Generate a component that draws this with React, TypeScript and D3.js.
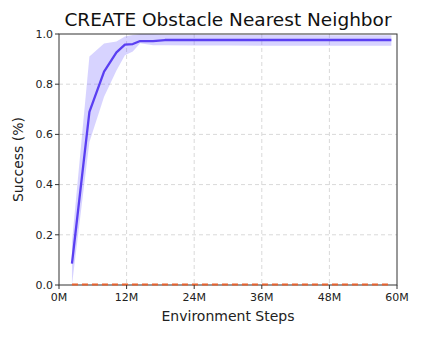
import React, { useEffect, useRef } from "react";
import * as d3 from "d3";

// environment steps (millions)
const steps = [2.3, 5.4, 8.0, 10.2, 11.7, 13.1, 14.4, 16.7, 18.8, 24, 30, 36, 42, 48, 54, 59];
const meanSuccess = [0.085, 0.69, 0.85, 0.927, 0.958, 0.96, 0.972, 0.972, 0.976, 0.976, 0.976, 0.976, 0.976, 0.976, 0.976, 0.976];
const upperSuccess = [0.17, 0.91, 0.962, 0.97, 0.99, 0.996, 1.0, 1.0, 0.998, 0.997, 0.996, 0.996, 0.996, 0.995, 0.995, 0.995];
const lowerSuccess = [0.0, 0.57, 0.75, 0.855, 0.915, 0.93, 0.963, 0.955, 0.955, 0.954, 0.954, 0.953, 0.953, 0.953, 0.953, 0.953];
const baselineSuccess = steps.map(() => 0.002);

const xTicks = [0, 12, 24, 36, 48, 60];
const yTicks = [0, 0.2, 0.4, 0.6, 0.8, 1.0];

const App = () => {
  const ref = useRef<SVGSVGElement>(null);

  useEffect(() => {
    const width = 422;
    const height = 338;
    const m = { left: 59, right: 25, top: 34, bottom: 53 };

    const svg = d3.select(ref.current)
      .attr("width", width)
      .attr("height", height);
    svg.selectAll("*").remove();

    const x = d3.scaleLinear().domain([0, 60]).range([m.left, width - m.right]);
    const y = d3.scaleLinear().domain([0, 1]).range([height - m.bottom, m.top]);
    const font = "DejaVu Sans, sans-serif";

    svg.append("rect").attr("width", width).attr("height", height).attr("fill", "#fff");

    // grid
    svg.append("g").selectAll("line")
      .data(xTicks.slice(1, -1))
      .enter().append("line")
      .attr("x1", d => x(d)).attr("x2", d => x(d))
      .attr("y1", m.top).attr("y2", height - m.bottom)
      .attr("stroke", "#d9d9d9").attr("stroke-dasharray", "4,3").attr("stroke-width", 1);
    svg.append("g").selectAll("line")
      .data(yTicks.slice(1, -1))
      .enter().append("line")
      .attr("y1", d => y(d)).attr("y2", d => y(d))
      .attr("x1", m.left).attr("x2", width - m.right)
      .attr("stroke", "#d9d9d9").attr("stroke-dasharray", "4,3").attr("stroke-width", 1);

    const idx = d3.range(steps.length);

    // band
    const area = d3.area<number>()
      .x(i => x(steps[i]))
      .y0(i => y(lowerSuccess[i]))
      .y1(i => y(upperSuccess[i]));
    svg.append("path").datum(idx).attr("d", area).attr("fill", "#7a6cff").attr("fill-opacity", 0.3);

    const line = (vals: number[]) => d3.line<number>().x(i => x(steps[i])).y(i => y(vals[i]))(idx);

    // frame
    svg.append("rect")
      .attr("x", m.left).attr("y", m.top)
      .attr("width", width - m.left - m.right).attr("height", height - m.top - m.bottom)
      .attr("fill", "none").attr("stroke", "#333").attr("stroke-width", 1);

    svg.append("path").attr("d", line(baselineSuccess))
      .attr("fill", "none").attr("stroke", "#e8622f").attr("stroke-width", 2)
      .attr("stroke-dasharray", "6,4");

    svg.append("path").attr("d", line(meanSuccess))
      .attr("fill", "none").attr("stroke", "#5a3ff2").attr("stroke-width", 2.3)
      .attr("stroke-linejoin", "round");

    // y axis ticks
    const gy = svg.append("g");
    yTicks.forEach(t => {
      gy.append("line").attr("x1", m.left - 4).attr("x2", m.left)
        .attr("y1", y(t)).attr("y2", y(t)).attr("stroke", "#333");
      gy.append("text").attr("x", m.left - 6).attr("y", y(t)).attr("dy", "0.35em")
        .attr("text-anchor", "end").attr("font-family", font).attr("font-size", 11)
        .attr("fill", "#222").text(t.toFixed(1));
    });

    // x axis ticks
    const gx = svg.append("g");
    xTicks.forEach(t => {
      gx.append("line").attr("x1", x(t)).attr("x2", x(t))
        .attr("y1", height - m.bottom).attr("y2", height - m.bottom + 4).attr("stroke", "#333");
      gx.append("text").attr("x", x(t)).attr("y", height - m.bottom + 16)
        .attr("text-anchor", "middle").attr("font-family", font).attr("font-size", 11)
        .attr("fill", "#222").text(`${t}M`);
    });

    svg.append("text").attr("x", (m.left + width - m.right) / 2).attr("y", 321)
      .attr("text-anchor", "middle").attr("font-family", font).attr("font-size", 14)
      .attr("fill", "#222").text("Environment Steps");

    svg.append("text").attr("transform", `translate(23,${(m.top + height - m.bottom) / 2}) rotate(-90)`)
      .attr("text-anchor", "middle").attr("font-family", font).attr("font-size", 14)
      .attr("fill", "#222").text("Success (%)");

    svg.append("text").attr("x", (m.left + width - m.right) / 2).attr("y", 26)
      .attr("text-anchor", "middle").attr("font-family", font).attr("font-size", 18.5)
      .attr("fill", "#111").text("CREATE Obstacle Nearest Neighbor");
  }, []);

  return <svg ref={ref} style={{ position: "absolute", left: 0, top: 0 }}></svg>;
};

export default App;
